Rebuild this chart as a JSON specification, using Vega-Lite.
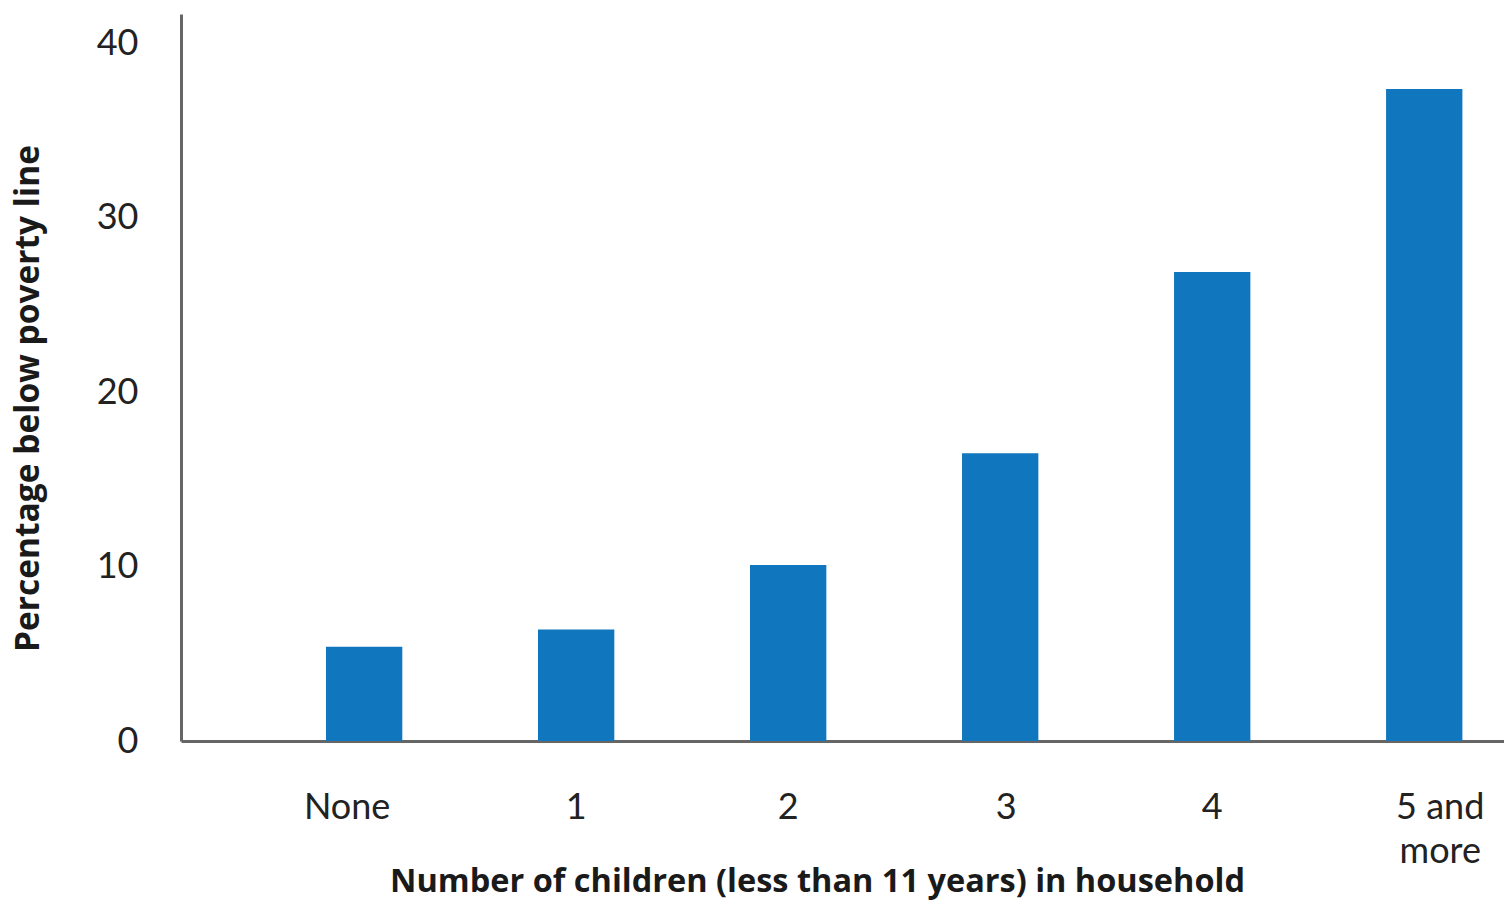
{
  "$schema": "https://vega.github.io/schema/vega-lite/v6.json",
  "width": 1323,
  "height": 727,
  "autosize": {"type": "none"},
  "padding": {"left": 181, "top": 14, "right": 0, "bottom": 162},
  "background": "white",
  "config": {
    "view": {"stroke": null},
    "font": "Lato"
  },
  "data": {
    "values": [
      {"children": "None", "pct": 5.4},
      {"children": "1", "pct": 6.4},
      {"children": "2", "pct": 10.1},
      {"children": "3", "pct": 16.5},
      {"children": "4", "pct": 26.9},
      {"children": "5 and more", "pct": 37.4}
    ]
  },
  "mark": {"type": "bar", "color": "#1076BD"},
  "encoding": {
    "x": {
      "field": "children",
      "type": "nominal",
      "sort": null,
      "scale": {"paddingInner": 0.64, "paddingOuter": 0.44, "align": 0.777},
      "axis": {
        "title": "Number of children (less than 11 years) in household",
        "titleFont": "Open Sans",
        "titleFontSize": 32.5,
        "titleFontWeight": "bold",
        "titleColor": "#1a1a1a",
        "titleX": 636,
        "titleY": 140,
        "titleBaseline": "middle",
        "titleAlign": "center",
        "labelAngle": 0,
        "labelFont": "Lato",
        "labelFontSize": 36,
        "labelColor": "#222222",
        "labelPadding": 49,
        "labelLineHeight": 44,
        "labelOffset": {"condition": [{"test": "datum.value == 'None'", "value": -17}, {"test": "datum.value == '5 and more'", "value": 16}, {"test": "datum.value == '3'", "value": 6}], "value": 0},
        "labelExpr": "datum.value == '5 and more' ? ['5 and', 'more'] : datum.label",
        "ticks": false,
        "domainColor": "#666666",
        "domainWidth": 3,
        "grid": false
      }
    },
    "y": {
      "field": "pct",
      "type": "quantitative",
      "scale": {"domain": [0, 41.7], "nice": false},
      "axis": {
        "title": "Percentage below poverty line",
        "titleFont": "Open Sans",
        "titleFontSize": 33.5,
        "titleFontWeight": "bold",
        "titleColor": "#1a1a1a",
        "titleX": -153,
        "titleY": 384,
        "titleAngle": -90,
        "titleBaseline": "middle",
        "titleAlign": "center",
        "values": [0, 10, 20, 30, 40],
        "labelFont": "Lato",
        "labelFontSize": 36,
        "labelColor": "#222222",
        "labelPadding": 43,
        "ticks": false,
        "domainColor": "#666666",
        "domainWidth": 3,
        "grid": false
      }
    }
  }
}
